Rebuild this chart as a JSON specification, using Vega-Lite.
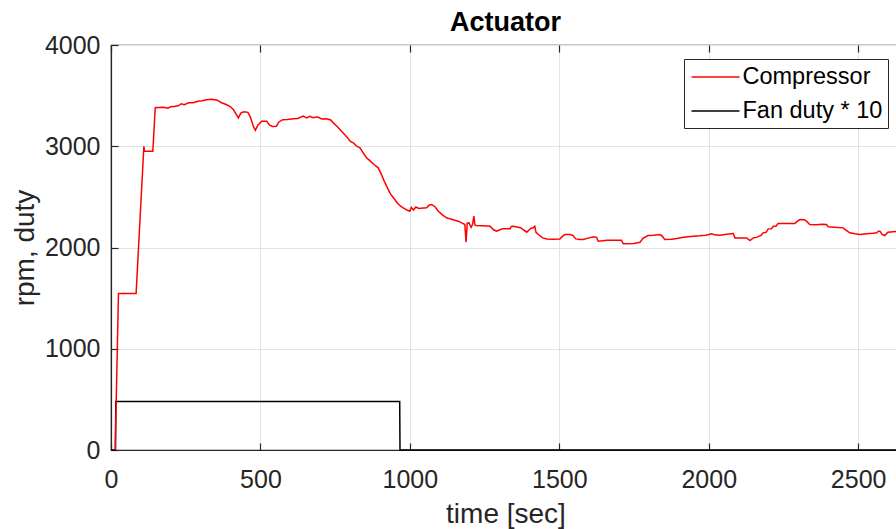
{
  "$schema": "https://vega.github.io/schema/vega-lite/v6.json",
  "autosize": {"type": "none"},
  "padding": {"left": 111, "top": 45, "right": 0, "bottom": 80},
  "width": 789,
  "height": 405,
  "title": {"text": "Actuator", "fontSize": 27, "fontWeight": "bold", "color": "#000000", "anchor": "middle", "dy": 8, "font": "Liberation Sans"},
  "config": {
    "font": "Liberation Sans",
    "view": {"stroke": "#262626", "strokeWidth": 1.2},
    "axis": {"domainColor": "#262626", "tickColor": "#262626", "labelColor": "#262626", "titleColor": "#262626", "gridColor": "#e2e2e2", "gridWidth": 1, "tickSize": -7, "tickWidth": 1.2, "domainWidth": 1.2, "labelFontSize": 25, "titleFontSize": 28, "titleFontWeight": "normal", "labelFont": "Liberation Sans", "titleFont": "Liberation Sans"}
  },
  "data": {"values": [
    {"t": 0, "v": 0, "s": "Fan duty * 10"},
    {"t": 15, "v": 0, "s": "Fan duty * 10"},
    {"t": 16, "v": 480, "s": "Fan duty * 10"},
    {"t": 966, "v": 480, "s": "Fan duty * 10"},
    {"t": 967, "v": 0, "s": "Fan duty * 10"},
    {"t": 2640, "v": 0, "s": "Fan duty * 10"},
    {"t": 14, "v": 0, "s": "Compressor"},
    {"t": 25, "v": 1545, "s": "Compressor"},
    {"t": 84, "v": 1545, "s": "Compressor"},
    {"t": 110, "v": 3000, "s": "Compressor"},
    {"t": 112, "v": 2950, "s": "Compressor"},
    {"t": 140, "v": 2950, "s": "Compressor"},
    {"t": 148, "v": 3380, "s": "Compressor"},
    {"t": 175, "v": 3385, "s": "Compressor"},
    {"t": 190, "v": 3375, "s": "Compressor"},
    {"t": 200, "v": 3390, "s": "Compressor"},
    {"t": 215, "v": 3395, "s": "Compressor"},
    {"t": 225, "v": 3400, "s": "Compressor"},
    {"t": 235, "v": 3420, "s": "Compressor"},
    {"t": 245, "v": 3410, "s": "Compressor"},
    {"t": 260, "v": 3430, "s": "Compressor"},
    {"t": 275, "v": 3430, "s": "Compressor"},
    {"t": 290, "v": 3445, "s": "Compressor"},
    {"t": 305, "v": 3450, "s": "Compressor"},
    {"t": 320, "v": 3460, "s": "Compressor"},
    {"t": 337, "v": 3465, "s": "Compressor"},
    {"t": 355, "v": 3455, "s": "Compressor"},
    {"t": 370, "v": 3430, "s": "Compressor"},
    {"t": 387, "v": 3410, "s": "Compressor"},
    {"t": 400, "v": 3390, "s": "Compressor"},
    {"t": 410, "v": 3360, "s": "Compressor"},
    {"t": 420, "v": 3310, "s": "Compressor"},
    {"t": 426, "v": 3280, "s": "Compressor"},
    {"t": 435, "v": 3330, "s": "Compressor"},
    {"t": 445, "v": 3340, "s": "Compressor"},
    {"t": 458, "v": 3335, "s": "Compressor"},
    {"t": 466, "v": 3290, "s": "Compressor"},
    {"t": 476, "v": 3200, "s": "Compressor"},
    {"t": 483, "v": 3158, "s": "Compressor"},
    {"t": 492, "v": 3210, "s": "Compressor"},
    {"t": 504, "v": 3247, "s": "Compressor"},
    {"t": 521, "v": 3247, "s": "Compressor"},
    {"t": 530, "v": 3210, "s": "Compressor"},
    {"t": 540, "v": 3195, "s": "Compressor"},
    {"t": 553, "v": 3198, "s": "Compressor"},
    {"t": 562, "v": 3240, "s": "Compressor"},
    {"t": 575, "v": 3262, "s": "Compressor"},
    {"t": 590, "v": 3265, "s": "Compressor"},
    {"t": 610, "v": 3272, "s": "Compressor"},
    {"t": 625, "v": 3275, "s": "Compressor"},
    {"t": 643, "v": 3297, "s": "Compressor"},
    {"t": 655, "v": 3280, "s": "Compressor"},
    {"t": 665, "v": 3295, "s": "Compressor"},
    {"t": 677, "v": 3281, "s": "Compressor"},
    {"t": 690, "v": 3290, "s": "Compressor"},
    {"t": 705, "v": 3270, "s": "Compressor"},
    {"t": 721, "v": 3272, "s": "Compressor"},
    {"t": 735, "v": 3260, "s": "Compressor"},
    {"t": 744, "v": 3231, "s": "Compressor"},
    {"t": 755, "v": 3200, "s": "Compressor"},
    {"t": 766, "v": 3165, "s": "Compressor"},
    {"t": 780, "v": 3120, "s": "Compressor"},
    {"t": 790, "v": 3090, "s": "Compressor"},
    {"t": 800, "v": 3050, "s": "Compressor"},
    {"t": 812, "v": 3030, "s": "Compressor"},
    {"t": 822, "v": 3000, "s": "Compressor"},
    {"t": 833, "v": 2985, "s": "Compressor"},
    {"t": 845, "v": 2930, "s": "Compressor"},
    {"t": 855, "v": 2886, "s": "Compressor"},
    {"t": 865, "v": 2860, "s": "Compressor"},
    {"t": 880, "v": 2820, "s": "Compressor"},
    {"t": 894, "v": 2787, "s": "Compressor"},
    {"t": 905, "v": 2720, "s": "Compressor"},
    {"t": 915, "v": 2650, "s": "Compressor"},
    {"t": 922, "v": 2606, "s": "Compressor"},
    {"t": 935, "v": 2530, "s": "Compressor"},
    {"t": 945, "v": 2491, "s": "Compressor"},
    {"t": 958, "v": 2440, "s": "Compressor"},
    {"t": 970, "v": 2405, "s": "Compressor"},
    {"t": 978, "v": 2392, "s": "Compressor"},
    {"t": 990, "v": 2370, "s": "Compressor"},
    {"t": 1000, "v": 2358, "s": "Compressor"},
    {"t": 1005, "v": 2395, "s": "Compressor"},
    {"t": 1012, "v": 2370, "s": "Compressor"},
    {"t": 1020, "v": 2400, "s": "Compressor"},
    {"t": 1030, "v": 2385, "s": "Compressor"},
    {"t": 1045, "v": 2390, "s": "Compressor"},
    {"t": 1056, "v": 2392, "s": "Compressor"},
    {"t": 1065, "v": 2420, "s": "Compressor"},
    {"t": 1073, "v": 2425, "s": "Compressor"},
    {"t": 1085, "v": 2400, "s": "Compressor"},
    {"t": 1095, "v": 2358, "s": "Compressor"},
    {"t": 1110, "v": 2320, "s": "Compressor"},
    {"t": 1123, "v": 2293, "s": "Compressor"},
    {"t": 1134, "v": 2283, "s": "Compressor"},
    {"t": 1150, "v": 2270, "s": "Compressor"},
    {"t": 1162, "v": 2260, "s": "Compressor"},
    {"t": 1175, "v": 2240, "s": "Compressor"},
    {"t": 1184, "v": 2227, "s": "Compressor"},
    {"t": 1188, "v": 2052, "s": "Compressor"},
    {"t": 1192, "v": 2240, "s": "Compressor"},
    {"t": 1198, "v": 2243, "s": "Compressor"},
    {"t": 1205, "v": 2200, "s": "Compressor"},
    {"t": 1210, "v": 2230, "s": "Compressor"},
    {"t": 1214, "v": 2309, "s": "Compressor"},
    {"t": 1218, "v": 2220, "s": "Compressor"},
    {"t": 1223, "v": 2217, "s": "Compressor"},
    {"t": 1240, "v": 2215, "s": "Compressor"},
    {"t": 1260, "v": 2212, "s": "Compressor"},
    {"t": 1268, "v": 2210, "s": "Compressor"},
    {"t": 1280, "v": 2175, "s": "Compressor"},
    {"t": 1290, "v": 2161, "s": "Compressor"},
    {"t": 1310, "v": 2185, "s": "Compressor"},
    {"t": 1335, "v": 2184, "s": "Compressor"},
    {"t": 1340, "v": 2208, "s": "Compressor"},
    {"t": 1346, "v": 2210, "s": "Compressor"},
    {"t": 1370, "v": 2195, "s": "Compressor"},
    {"t": 1391, "v": 2151, "s": "Compressor"},
    {"t": 1405, "v": 2190, "s": "Compressor"},
    {"t": 1413, "v": 2194, "s": "Compressor"},
    {"t": 1418, "v": 2210, "s": "Compressor"},
    {"t": 1422, "v": 2150, "s": "Compressor"},
    {"t": 1430, "v": 2128, "s": "Compressor"},
    {"t": 1445, "v": 2095, "s": "Compressor"},
    {"t": 1458, "v": 2085, "s": "Compressor"},
    {"t": 1480, "v": 2082, "s": "Compressor"},
    {"t": 1502, "v": 2085, "s": "Compressor"},
    {"t": 1510, "v": 2110, "s": "Compressor"},
    {"t": 1519, "v": 2128, "s": "Compressor"},
    {"t": 1536, "v": 2128, "s": "Compressor"},
    {"t": 1545, "v": 2120, "s": "Compressor"},
    {"t": 1555, "v": 2085, "s": "Compressor"},
    {"t": 1569, "v": 2079, "s": "Compressor"},
    {"t": 1580, "v": 2080, "s": "Compressor"},
    {"t": 1600, "v": 2095, "s": "Compressor"},
    {"t": 1614, "v": 2105, "s": "Compressor"},
    {"t": 1625, "v": 2100, "s": "Compressor"},
    {"t": 1630, "v": 2062, "s": "Compressor"},
    {"t": 1660, "v": 2072, "s": "Compressor"},
    {"t": 1708, "v": 2072, "s": "Compressor"},
    {"t": 1714, "v": 2036, "s": "Compressor"},
    {"t": 1750, "v": 2040, "s": "Compressor"},
    {"t": 1770, "v": 2052, "s": "Compressor"},
    {"t": 1780, "v": 2090, "s": "Compressor"},
    {"t": 1797, "v": 2118, "s": "Compressor"},
    {"t": 1815, "v": 2120, "s": "Compressor"},
    {"t": 1837, "v": 2128, "s": "Compressor"},
    {"t": 1845, "v": 2110, "s": "Compressor"},
    {"t": 1853, "v": 2079, "s": "Compressor"},
    {"t": 1875, "v": 2082, "s": "Compressor"},
    {"t": 1893, "v": 2089, "s": "Compressor"},
    {"t": 1910, "v": 2098, "s": "Compressor"},
    {"t": 1930, "v": 2105, "s": "Compressor"},
    {"t": 1948, "v": 2112, "s": "Compressor"},
    {"t": 1970, "v": 2115, "s": "Compressor"},
    {"t": 1990, "v": 2120, "s": "Compressor"},
    {"t": 2010, "v": 2135, "s": "Compressor"},
    {"t": 2020, "v": 2125, "s": "Compressor"},
    {"t": 2037, "v": 2121, "s": "Compressor"},
    {"t": 2060, "v": 2130, "s": "Compressor"},
    {"t": 2082, "v": 2138, "s": "Compressor"},
    {"t": 2088, "v": 2095, "s": "Compressor"},
    {"t": 2127, "v": 2095, "s": "Compressor"},
    {"t": 2138, "v": 2069, "s": "Compressor"},
    {"t": 2149, "v": 2095, "s": "Compressor"},
    {"t": 2160, "v": 2100, "s": "Compressor"},
    {"t": 2175, "v": 2120, "s": "Compressor"},
    {"t": 2182, "v": 2145, "s": "Compressor"},
    {"t": 2192, "v": 2150, "s": "Compressor"},
    {"t": 2199, "v": 2184, "s": "Compressor"},
    {"t": 2210, "v": 2185, "s": "Compressor"},
    {"t": 2216, "v": 2210, "s": "Compressor"},
    {"t": 2225, "v": 2210, "s": "Compressor"},
    {"t": 2232, "v": 2237, "s": "Compressor"},
    {"t": 2288, "v": 2237, "s": "Compressor"},
    {"t": 2295, "v": 2255, "s": "Compressor"},
    {"t": 2305, "v": 2276, "s": "Compressor"},
    {"t": 2320, "v": 2275, "s": "Compressor"},
    {"t": 2327, "v": 2260, "s": "Compressor"},
    {"t": 2338, "v": 2227, "s": "Compressor"},
    {"t": 2360, "v": 2225, "s": "Compressor"},
    {"t": 2380, "v": 2230, "s": "Compressor"},
    {"t": 2394, "v": 2227, "s": "Compressor"},
    {"t": 2400, "v": 2204, "s": "Compressor"},
    {"t": 2420, "v": 2200, "s": "Compressor"},
    {"t": 2450, "v": 2194, "s": "Compressor"},
    {"t": 2460, "v": 2170, "s": "Compressor"},
    {"t": 2472, "v": 2145, "s": "Compressor"},
    {"t": 2490, "v": 2135, "s": "Compressor"},
    {"t": 2506, "v": 2128, "s": "Compressor"},
    {"t": 2530, "v": 2135, "s": "Compressor"},
    {"t": 2550, "v": 2140, "s": "Compressor"},
    {"t": 2562, "v": 2145, "s": "Compressor"},
    {"t": 2568, "v": 2160, "s": "Compressor"},
    {"t": 2573, "v": 2161, "s": "Compressor"},
    {"t": 2580, "v": 2130, "s": "Compressor"},
    {"t": 2589, "v": 2118, "s": "Compressor"},
    {"t": 2600, "v": 2150, "s": "Compressor"},
    {"t": 2617, "v": 2155, "s": "Compressor"},
    {"t": 2640, "v": 2160, "s": "Compressor"}
  ]},
  "layer": [
    {
      "mark": {"type": "line", "opacity": 0},
      "encoding": {
        "x": {"field": "t", "type": "quantitative", "scale": {"domain": [0, 2640], "nice": false, "zero": false},
              "axis": {"orient": "top", "values": [0, 500, 1000, 1500, 2000, 2500], "labels": false, "grid": false, "domain": false, "title": null, "minExtent": 0, "maxExtent": 0}},
        "y": {"field": "v", "type": "quantitative", "scale": {"domain": [0, 4000], "nice": false}},
        "detail": {"field": "s"}
      }
    },
    {
      "mark": {"type": "line", "strokeWidth": 1.5, "interpolate": "linear"},
      "encoding": {
        "x": {"field": "t", "type": "quantitative", "scale": {"domain": [0, 2640], "nice": false, "zero": false},
              "axis": {"orient": "bottom", "values": [0, 500, 1000, 1500, 2000, 2500], "format": "d", "title": "time [sec]", "labelPadding": 24, "titlePadding": 8, "grid": true, "labelFlush": false}},
        "y": {"field": "v", "type": "quantitative", "scale": {"domain": [0, 4000], "nice": false},
              "axis": {"orient": "left", "values": [0, 1000, 2000, 3000, 4000], "format": "d", "title": "rpm, duty", "labelPadding": 18, "titlePadding": 5, "grid": true}},
        "color": {"field": "s", "type": "nominal",
                  "scale": {"domain": ["Compressor", "Fan duty * 10"], "range": ["#ff0000", "#000000"]},
                  "legend": {"orient": "none", "legendX": 573, "legendY": 14, "title": null, "symbolType": "M-2,0H2", "symbolSize": 576, "symbolStrokeWidth": 1.5, "symbolOffset": 13.5, "labelFontSize": 23.5, "labelColor": "#000000", "labelFont": "Liberation Sans", "strokeColor": "#262626", "fillColor": "#ffffff", "padding": 5, "rowPadding": 9, "labelOffset": 14}}
      }
    }
  ],
  "resolve": {"axis": {"x": "independent"}}
}
